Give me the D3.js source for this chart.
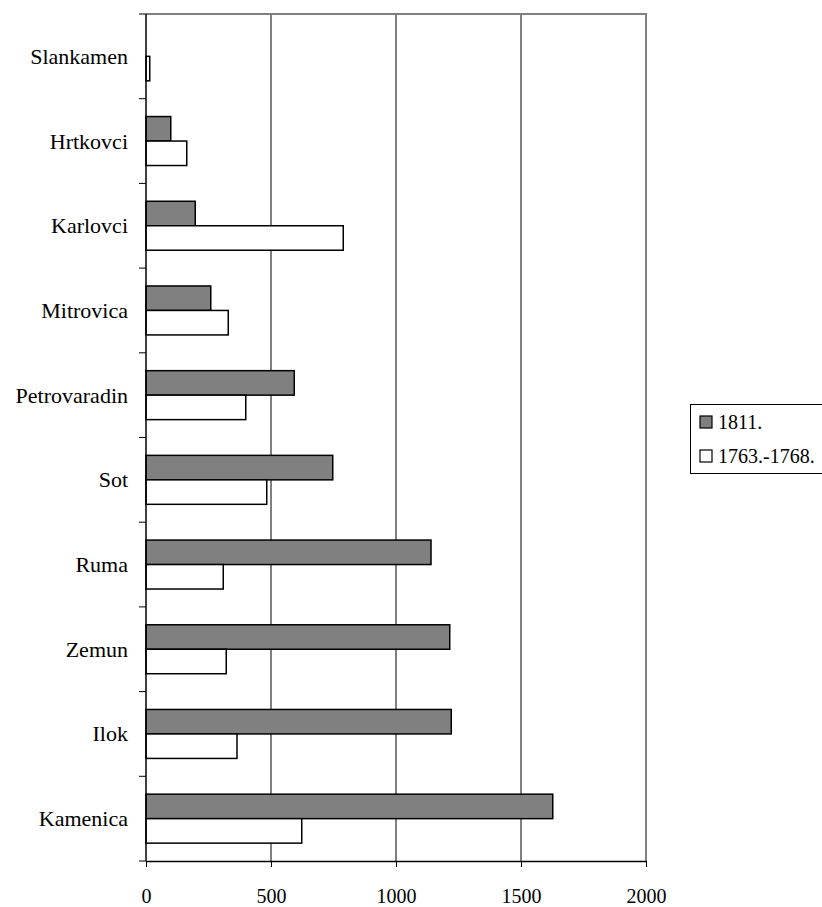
<!DOCTYPE html>
<html>
<head>
<meta charset="utf-8">
<script src="https://cdn.jsdelivr.net/npm/d3@7"></script>
<style>
  html, body { margin: 0; padding: 0; background: #fff; }
  svg { display: block; }
</style>
</head>
<body>
<svg id="chart" width="822" height="907"></svg>
<script>
const categories = ["Slankamen","Hrtkovci","Karlovci","Mitrovica","Petrovaradin","Sot","Ruma","Zemun","Ilok","Kamenica"];
const seriesNames = ["1811.", "1763.-1768."];
const values1811 = [0, 99, 197, 259, 593, 747, 1140, 1215, 1221, 1627];
const values1763 = [15, 163, 789, 329, 399, 483, 309, 321, 364, 623];
const xTicks = [0, 500, 1000, 1500, 2000];
const seriesFill = ["#808080", "#ffffff"];

(function () {
const FONT = "'Liberation Serif', 'DejaVu Serif', serif";
const svg = d3.select("#chart");
const pLeft = 146, pRight = 646, pTop = 14, pBottom = 861;

const x = d3.scaleLinear().domain([0, 2000]).range([pLeft, pRight]);
const y = d3.scaleBand().domain(categories).range([pTop, pBottom]).padding(0);
const inner = d3.scaleBand().domain(seriesNames).range([0, y.bandwidth()]).paddingInner(0).paddingOuter(0.73);

// gridlines
svg.append("g").selectAll("line").data(xTicks.filter(d => d > 0 && d < 2000)).join("line")
  .attr("x1", d => x(d)).attr("x2", d => x(d))
  .attr("y1", pTop).attr("y2", pBottom)
  .attr("stroke", "#000").attr("stroke-width", 1);

// plot border (top & right)
svg.append("path")
  .attr("d", `M${pLeft},${pTop}H${pRight}V${pBottom}`)
  .attr("fill", "none").attr("stroke", "#808080").attr("stroke-width", 2);

// bars
const rows = categories.map((c, i) => ({c, vals: [values1811[i], values1763[i]]}));
const g = svg.append("g");
rows.forEach(r => {
  r.vals.forEach((v, j) => {
    if (v <= 0) return;
    g.append("rect")
      .attr("x", x(0))
      .attr("y", y(r.c) + inner(seriesNames[j]))
      .attr("width", x(v) - x(0))
      .attr("height", inner.bandwidth())
      .attr("fill", seriesFill[j])
      .attr("stroke", "#000")
      .attr("stroke-width", 1.5);
  });
});

// y axis line and category ticks
svg.append("line").attr("x1", pLeft).attr("x2", pLeft).attr("y1", pTop).attr("y2", pBottom)
  .attr("stroke", "#000").attr("stroke-width", 1.5);
const boundaries = categories.map(c => y(c)).concat([pBottom]);
svg.append("g").selectAll("line").data(boundaries).join("line")
  .attr("x1", pLeft - 7).attr("x2", pLeft)
  .attr("y1", d => d).attr("y2", d => d)
  .attr("stroke", "#000").attr("stroke-width", 1);

// category labels
svg.append("g").selectAll("text").data(categories).join("text")
  .attr("x", 128)
  .attr("y", d => y(d) + y.bandwidth() / 2)
  .attr("text-anchor", "end")
  .attr("dominant-baseline", "central")
  .attr("font-family", FONT)
  .attr("font-size", 22)
  .attr("fill", "#000")
  .text(d => d);

// x axis
const xAxis = d3.axisBottom(x).tickValues(xTicks).tickSize(6).tickSizeOuter(0).tickFormat(d3.format("d"));
const ax = svg.append("g").attr("transform", `translate(0,${pBottom})`).call(xAxis);
ax.attr("font-family", FONT);
ax.select(".domain").attr("stroke", "#000").attr("stroke-width", 1.5);
ax.selectAll(".tick line").attr("stroke", "#000");
ax.selectAll(".tick text")
  .attr("font-family", FONT)
  .attr("font-size", 20).attr("fill", "#000")
  .attr("y", 35).attr("dy", "0.35em");

// legend
const lg = svg.append("g");
lg.append("rect").attr("x", 690.5).attr("y", 404.5).attr("width", 140).attr("height", 69)
  .attr("fill", "#fff").attr("stroke", "#000").attr("stroke-width", 1);
seriesNames.forEach((s, j) => {
  const cy = 422 + j * 34;
  lg.append("rect").attr("x", 700).attr("y", cy - 6).attr("width", 12).attr("height", 12)
    .attr("fill", seriesFill[j]).attr("stroke", "#000").attr("stroke-width", 1.2);
  lg.append("text").attr("x", 718).attr("y", cy)
    .attr("dominant-baseline", "central")
    .attr("font-family", FONT)
    .attr("font-size", 20).attr("fill", "#000").text(s);
});
})();
</script>
</body>
</html>
